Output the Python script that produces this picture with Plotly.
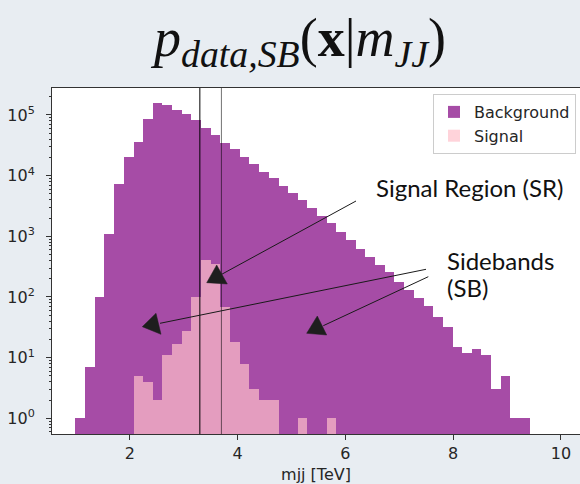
import plotly.graph_objects as go

# ---- data ----
bin_edges = [0.99, 1.17, 1.35, 1.53, 1.71, 1.89, 2.07, 2.25, 2.43, 2.60, 2.78, 2.96,
             3.14, 3.32, 3.50, 3.68, 3.86, 4.04, 4.22, 4.40, 4.58, 4.76, 4.94, 5.12,
             5.29, 5.47, 5.65, 5.83, 6.01, 6.19, 6.37, 6.55, 6.73, 6.91, 7.09, 7.27,
             7.45, 7.63, 7.81, 7.99, 8.16, 8.34, 8.52, 8.70, 8.88, 9.06, 9.24, 9.42]

background_counts = [1, 7, 100, 1100, 7200, 20000, 36500, 85000, 156000, 148000,
                     123000, 103000, 81500, 60000, 46800, 34500, 27200, 20500, 15700,
                     11600, 9250, 6830, 5240, 3970, 2900, 2190, 1640, 1190, 870, 618,
                     461, 336, 261, 179, 128, 95, 72, 46, 32, 15, 12, 14, 11, 3, 5, 1, 1]

signal_counts = [None, None, None, None, None, None, 5, 4, 2, 11, 17, 27, 100, 400,
                 355, 68, 18, 8, 3, 2, 2, None, None, 1, None, None, 1, None, None,
                 None, None, None, None, None, None, None, None, None, None, None,
                 None, None, None, None, None, None, None]

sr_bounds = [3.3, 3.7]
x_ticks = [2, 4, 6, 8, 10]
y_ticks = [1, 10, 100, 1000, 10000, 100000]
y_ticktext = ["10<sup>0</sup>", "10<sup>1</sup>", "10<sup>2</sup>",
              "10<sup>3</sup>", "10<sup>4</sup>", "10<sup>5</sup>"]

centers = [(a + b) / 2 for a, b in zip(bin_edges[:-1], bin_edges[1:])]
widths = [b - a for a, b in zip(bin_edges[:-1], bin_edges[1:])]

# ---- layout geometry ----
W, H = 580, 484
ML, MR, MT, MB = 52, 0, 88, 50
PW, PH = W - ML - MR, H - MT - MB


def paper(x, y):
    return (x - ML) / PW, (H - MB - y) / PH


fig = go.Figure()
fig.add_trace(go.Bar(x=centers, y=background_counts, width=widths,
                     marker=dict(color="rgba(128,0,128,0.7)", line=dict(width=0)),
                     name="Background"))
fig.add_trace(go.Bar(x=centers, y=signal_counts, width=widths,
                     marker=dict(color="rgba(255,192,203,0.7)", line=dict(width=0)),
                     name="Signal"))

shapes = []
# signal-region boundaries
shapes.append(dict(type="line", xref="x", yref="paper", x0=sr_bounds[0], x1=sr_bounds[0],
                   y0=0, y1=1, line=dict(color="black", width=1)))
shapes.append(dict(type="line", xref="x", yref="paper", x0=sr_bounds[1], x1=sr_bounds[1],
                   y0=0, y1=1, line=dict(color="rgba(0,0,0,0.55)", width=1)))

# arrows (lines + triangular heads), positions in pixels
arrows = [
    ((356, 201), (221.7, 274.3), [(216.7, 265), (206.7, 282.7), (227.3, 284)]),
    ((426, 269.3), (160, 323.3), [(142.3, 326.7), (156, 313.3), (161, 334.3)]),
    ((428.3, 276.7), (323.3, 325.7), [(317.3, 316), (306.7, 333.3), (326.7, 335)]),
]
for p0, p1, tri in arrows:
    x0, y0 = paper(*p0)
    x1, y1 = paper(*p1)
    shapes.append(dict(type="line", xref="paper", yref="paper", x0=x0, y0=y0, x1=x1, y1=y1,
                       line=dict(color="#1a1a1a", width=1)))
    pts = [paper(*p) for p in tri]
    path = "M{:.5f},{:.5f} L{:.5f},{:.5f} L{:.5f},{:.5f} Z".format(
        pts[0][0], pts[0][1], pts[1][0], pts[1][1], pts[2][0], pts[2][1])
    shapes.append(dict(type="path", xref="paper", yref="paper", path=path,
                       fillcolor="#1e1e1e", line=dict(color="#1e1e1e", width=0.5)))

annotations = []
ann_font = dict(family="Lato", size=24, color="#111111")
for text, (x, y) in [("Signal Region (SR)", (374, 187)),
                     ("Sidebands", (445, 260)),
                     ("(SB)", (445, 287))]:
    ax, ay = paper(x, y)
    annotations.append(dict(text=text, x=ax, y=ay, xref="paper", yref="paper",
                            xanchor="left", yanchor="middle", showarrow=False,
                            font=ann_font))

tick_font = dict(family="DejaVu Sans", size=16, color="#262626")

fig.update_layout(
    width=W, height=H,
    margin=dict(l=ML, r=MR, t=MT, b=MB, pad=0),
    paper_bgcolor="#e8edf2",
    plot_bgcolor="white",
    barmode="overlay",
    bargap=0,
    title=dict(
        text="<i>p</i><sub><i>data,SB</i></sub>(<b>x</b>|<i>m</i><sub><i>JJ</i></sub>)",
        x=300 / W, xanchor="center", y=1 - 37 / H, yanchor="middle",
        font=dict(family="Liberation Serif", size=54, color="#111111")),
    legend=dict(x=paper(576, 0)[0], xanchor="right", y=paper(0, 94)[1], yanchor="top",
                bgcolor="white", bordercolor="#cccccc", borderwidth=1,
                font=dict(family="DejaVu Sans", size=16, color="#262626"),
                tracegroupgap=0, traceorder="normal"),
    shapes=shapes,
    annotations=annotations,
    xaxis=dict(range=[0.557, 10.353], tickvals=x_ticks, ticks="outside", ticklen=5,
               tickcolor="#333333", showline=True, linecolor="#333333", linewidth=1,
               mirror=True, showgrid=False, zeroline=False, tickfont=tick_font,
               title=dict(text="mjj [TeV]", font=tick_font, standoff=6)),
    yaxis=dict(type="log", range=[-0.259, 5.445], tickmode="array", tickvals=y_ticks,
               ticktext=y_ticktext, ticks="outside", ticklen=5, tickcolor="#333333",
               showline=True, linecolor="#333333", linewidth=1, showgrid=False,
               zeroline=False, tickfont=tick_font, ticklabelstandoff=8,
               minor=dict(tickmode="array",
                          tickvals=[k * 10 ** e for e in range(-1, 6) for k in range(2, 10)],
                          ticks="outside", ticklen=2.5, tickcolor="#333333", showgrid=False)),
)

fig.write_html("out.html",
               config={"displayModeBar": False},
               post_script="document.body.style.margin='0px';"
                           "document.body.style.overflow='hidden';")
